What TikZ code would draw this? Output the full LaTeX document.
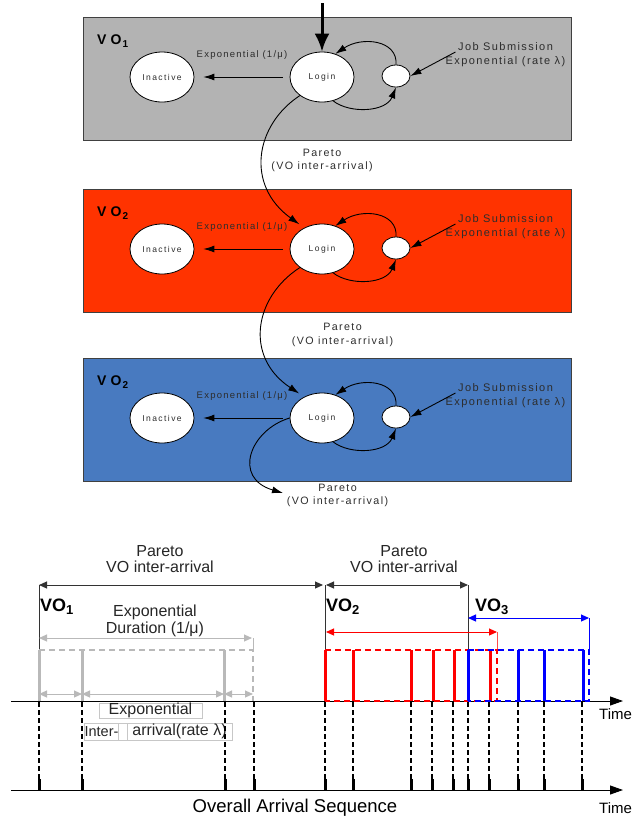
\documentclass[tikz,border=0pt]{standalone}
\usepackage{fontspec}
\setmainfont{Liberation Sans}
\newfontfamily\spcd[LetterSpace=13]{Liberation Sans}
\newfontfamily\spst[LetterSpace=17]{Liberation Sans}
\newfontfamily\spvo[LetterSpace=30]{Liberation Sans Bold}
\usetikzlibrary{arrows.meta,shapes.geometric}
\definecolor{boxgray}{RGB}{179,179,179}
\definecolor{boxred}{RGB}{255,51,0}
\definecolor{boxblue}{RGB}{72,122,192}
\definecolor{tlgray}{RGB}{185,185,185}
\definecolor{txtdark}{RGB}{45,45,45}
\newcommand{\vosub}[2]{\raisebox{-0.3ex}{\fontsize{#1}{#1}\selectfont #2}}
\begin{document}
\begin{tikzpicture}[x=1pt,y=-1pt,
  boxframe/.style={draw=black!75, line width=0.8pt},
  state/.style={ellipse, draw=black, line width=0.8pt, fill=white, minimum width=64pt, minimum height=50pt, inner sep=0pt, font=\spst\fontsize{8.5}{10}\selectfont, text=txtdark},
  jobdot/.style={ellipse, draw=black, line width=0.8pt, fill=white, minimum width=28pt, minimum height=22pt, inner sep=0pt},
  arr/.style={-{Latex[length=11pt,width=7pt]}, line width=0.9pt},
  bigarr/.style={-{Latex[length=18pt,width=15pt]}, line width=3pt},
  lbl/.style={font=\spcd\fontsize{9.5}{12}\selectfont, text=txtdark, inner sep=0pt},
  jl/.style={font=\spcd\fontsize{11}{14}\selectfont, align=center, inner sep=0pt, text=txtdark},
  pl/.style={font=\spcd\fontsize{10.7}{13}\selectfont, align=center, inner sep=0pt, text=txtdark},
  vol/.style={font=\spvo\fontsize{14}{15}\selectfont, inner sep=0pt, anchor=west, text=black},
  bl/.style={font=\fontsize{16}{16.5}\selectfont, align=center, inner sep=0pt, text=black!85},
  bvo/.style={font=\bfseries\fontsize{18}{18}\selectfont, inner sep=0pt, anchor=west},
  tarr/.style={{Triangle[length=8pt,width=7pt]}-{Triangle[length=8pt,width=7pt]}, line width=1pt, draw=black!80},
  carr/.style={{Triangle[length=8pt,width=7pt]}-{Triangle[length=8pt,width=7pt]}, line width=1pt},
  mk/.style={line width=3pt},
  dbox/.style={line width=1.6pt, dash pattern=on 6pt off 4pt},
  gb/.style={draw=black!22, line width=0.7pt, inner sep=0pt, font=\fontsize{16}{16}\selectfont, text=black!85},
  tmline/.style={line width=1.1pt, dash pattern=on 5pt off 3pt},
  axis/.style={line width=0.9pt, -{Triangle[length=13pt,width=9pt]}}
]
\useasboundingbox (0,0) rectangle (633,820);

% ---------- three VO boxes ----------
\foreach \i/\dy/\col/\sb in {1/0/boxgray/1, 2/172/boxred/2, 3/341/boxblue/2} {
  \begin{scope}[yshift=-\dy pt]
    \draw[boxframe, fill=\col] (83,17) rectangle (571,140);
    \node[vol] (vo\i) at (97,41) {VO\hspace{1pt}\vosub{10}{\sb}};
    \node[state] (inact\i) at (162,77) {Inactive};
    \node[state] (login\i) at (322,77) {Login};
    \node[jobdot] (job\i) at (396,76) {};
    \node[lbl] (exp\i) at (242,55) {Exponential (1/μ)};
    \node[jl] (jobtxt\i) at (505.5,55) {Job Submission\\Exponential (rate λ)};
    \draw[arr, shorten <=7pt, shorten >=9pt] (login\i.west) -- (inact\i.east);
    \draw[arr] (job\i.north) .. controls (398,40) and (362,36) .. (login\i.60);
    \draw[arr] (login\i.-65) .. controls (350,114) and (386,112) .. (job\i.south);
    \draw[arr] ([shift={(10,-3)}]jobtxt\i.west) -- (job\i.east);
  \end{scope}
}

% thick entry arrow
\coordinate (entry) at (322,3);
\draw[bigarr] (entry) -- (login1.north);

% Pareto transitions between boxes
\draw[arr, shorten >=6pt] (login1.220) .. controls (255,125) and (245,185) .. (login2.130);
\draw[arr, shorten >=6pt] (login2.220) .. controls (254,297) and (244,357) .. (login3.130);
\coordinate (out3) at (283,493);
\draw[arr] (login3.180) .. controls (250,430) and (232,478) .. (out3);

\node[pl] (par1) at (322,160.5) {Pareto\\(VO inter-arrival)};
\node[pl, font=\spcd\fontsize{10.7}{14}\selectfont] (par2) at (342.5,335) {Pareto\\(VO inter-arrival)};
\node[pl] (par3) at (337.5,495.5) {Pareto\\(VO inter-arrival)};

% ---------- timeline ----------
\node[bl] (tp1) at (160,559) {Pareto\\VO inter-arrival};
\node[bl] (tp2) at (404,559) {Pareto\\VO inter-arrival};
\draw[tarr] (39,585) -- (323,585);
\draw[tarr] (326,585) -- (468,585);
\draw[black!80, line width=1pt] (39,585) -- (39,650);
\draw[black!80, line width=1pt] (325,585) -- (325,650);
\draw[black!80, line width=1pt] (468,585) -- (468,650);

\node[bvo] (bvo1) at (40,607) {VO\vosub{13}{1}};
\node[bvo] (bvo2) at (326,607) {VO\vosub{13}{2}};
\node[bvo] (bvo3) at (475,607) {VO\vosub{13}{3}};
\node[bl, font=\fontsize{16}{17}\selectfont] (dur) at (155,620.5) {Exponential\\Duration (1/μ)};

% upper axis
\draw[axis] (11,701) -- (623,701);
\node[inner sep=0pt, anchor=west, font=\fontsize{15}{15}\selectfont] (time1) at (599,714) {Time};

% VO1 (gray)
\draw[carr, tlgray] (39,638) -- (252,638);
\draw[tlgray, line width=1pt] (253,638) -- (253,650);
\draw[tlgray, dbox] (39,650) -- (253,650) -- (253,701);
\foreach \x in {39,82,224} \draw[tlgray, line width=3pt] (\x,650) -- (\x,701);
\draw[carr, tlgray] (39,694) -- (82,694);
\draw[carr, tlgray] (82,694) -- (224,694);
\draw[carr, tlgray] (224,694) -- (253,694);

% VO2 (red)
\draw[carr, red] (326,632) -- (497,632);
\draw[red!70, line width=1pt] (497,632) -- (497,650);
\draw[red, dbox] (325,650) -- (497,650) -- (497,701) -- (325,701);
\foreach \x in {325,353,411,433,454,490} \draw[red, mk] (\x,650) -- (\x,701);

% VO3 (blue)
\draw[carr, blue] (468,618) -- (589,618);
\draw[blue, line width=1pt] (589,618) -- (589,650);
\draw[blue, dbox] (468,650) -- (589,650) -- (589,701) -- (468,701);
\foreach \x in {468,518,544,583} \draw[blue, mk] (\x,650) -- (\x,701);

% inter-arrival labels
\node[gb, minimum width=103pt, minimum height=15pt] (ex2) at (150.5,710.5) {Exponential};
\node[gb, minimum width=33pt, minimum height=17pt, font=\fontsize{14.5}{14.5}\selectfont] (ia1) at (101.5,731.5) {Inter-};
\node[gb, minimum width=9pt, minimum height=17pt] (ia2) at (122.5,731.5) {};
\node[gb, minimum width=105pt, minimum height=17pt] (ia3) at (179.5,731.5) {arrival(rate λ)};

% overall sequence
\foreach \x in {39,82,225,254,325,353,411,432,453,468,489,518,544,582} {
  \draw[tmline] (\x,702) -- (\x,779);
  \draw[line width=3pt] (\x,779) -- (\x,790);
}
\draw[axis] (11,790) -- (623,790);
\node[inner sep=0pt, anchor=west, font=\fontsize{15}{15}\selectfont] (time2) at (599,808) {Time};
\node[inner sep=0pt, font=\fontsize{18.5}{18.5}\selectfont] (oas) at (295,808) {Overall Arrival Sequence};
\end{tikzpicture}
\end{document}
